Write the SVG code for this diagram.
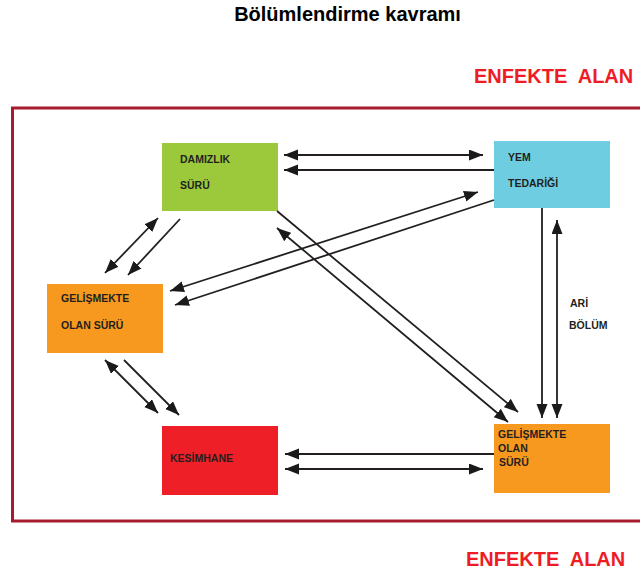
<svg xmlns="http://www.w3.org/2000/svg" width="640" height="576" viewBox="0 0 640 576">
<defs>
<style>
.lbl{font-family:"Liberation Sans",Arial,sans-serif;font-weight:bold;font-size:10.5px;fill:#231f20}
.red{font-family:"Liberation Sans",Arial,sans-serif;font-weight:bold;font-size:20px;fill:#ee1c25}
.ln{stroke:#231f20;stroke-width:1.8;fill:none}
</style>
<marker id="ah" markerUnits="userSpaceOnUse" markerWidth="15" markerHeight="12" refX="14" refY="5.5" orient="auto-start-reverse">
<path d="M0,0 L14,5.5 L0,11 Z" fill="#1a1a1a"/>
</marker>
</defs>
<rect width="640" height="576" fill="#fff"/>
<text x="347.5" y="21" text-anchor="middle" font-family="Liberation Sans,Arial,sans-serif" font-weight="bold" font-size="20" fill="#000">Bölümlendirme kavramı</text>
<text class="red" x="474" y="83" xml:space="preserve">ENFEKTE  ALAN</text>
<text class="red" x="466" y="566" xml:space="preserve">ENFEKTE  ALAN</text>
<path d="M642,108 H12.5 V521 H642" fill="none" stroke="#a61c2e" stroke-width="3"/>
<g id="damizlik"><rect x="162" y="143" width="116" height="68" fill="#9bc93b"/><text class="lbl" x="180" y="163">DAMIZLIK</text><text class="lbl" x="180" y="189">SÜRÜ</text></g>
<g id="yem"><rect x="494" y="141" width="116" height="67" fill="#6ecde0"/><text class="lbl" x="508" y="161">YEM</text><text class="lbl" x="508" y="187">TEDARİĞİ</text></g>
<g id="gelisme-sol"><rect x="47" y="284" width="116" height="69" fill="#f7991f"/><text class="lbl" x="61" y="302">GELİŞMEKTE</text><text class="lbl" x="61" y="329">OLAN SÜRÜ</text></g>
<g id="kesimhane"><rect x="162" y="426" width="116" height="69" fill="#ef1f27"/><text class="lbl" x="170" y="462">KESİMHANE</text></g>
<g id="gelisme-sag"><rect x="494" y="424" width="116" height="69" fill="#f7991f"/><text class="lbl" x="498" y="438">GELİŞMEKTE</text><text class="lbl" x="498" y="452">OLAN</text><text class="lbl" x="499" y="466">SÜRÜ</text></g>
<g id="ari-bolum"><text class="lbl" x="570" y="307">ARİ</text><text class="lbl" x="569" y="329">BÖLÜM</text></g>
<g id="connectors">
<line class="ln" x1="284" y1="155" x2="483" y2="155" marker-start="url(#ah)" marker-end="url(#ah)" stroke-width="2.2"/>
<line class="ln" x1="494" y1="170" x2="284" y2="170" marker-end="url(#ah)"/>
<line class="ln" x1="170" y1="291" x2="478" y2="192" marker-start="url(#ah)" marker-end="url(#ah)"/>
<line class="ln" x1="494" y1="200" x2="175" y2="305" marker-end="url(#ah)"/>
<line class="ln" x1="158" y1="218" x2="105" y2="273" marker-start="url(#ah)" marker-end="url(#ah)"/>
<line class="ln" x1="180" y1="219" x2="128" y2="275" marker-end="url(#ah)"/>
<line class="ln" x1="105" y1="360" x2="158" y2="413" marker-start="url(#ah)" marker-end="url(#ah)"/>
<line class="ln" x1="124" y1="360" x2="179" y2="415" marker-end="url(#ah)"/>
<line class="ln" x1="277" y1="211" x2="518" y2="412" marker-end="url(#ah)"/>
<line class="ln" x1="277" y1="228" x2="508" y2="422" marker-start="url(#ah)" marker-end="url(#ah)"/>
<line class="ln" x1="542" y1="208" x2="542" y2="418" marker-end="url(#ah)"/>
<line class="ln" x1="557" y1="220" x2="557" y2="418" marker-start="url(#ah)" marker-end="url(#ah)"/>
<line class="ln" x1="494" y1="454" x2="285" y2="454" marker-end="url(#ah)"/>
<line class="ln" x1="285" y1="469" x2="483" y2="469" marker-start="url(#ah)" marker-end="url(#ah)"/>
</g>
</svg>
